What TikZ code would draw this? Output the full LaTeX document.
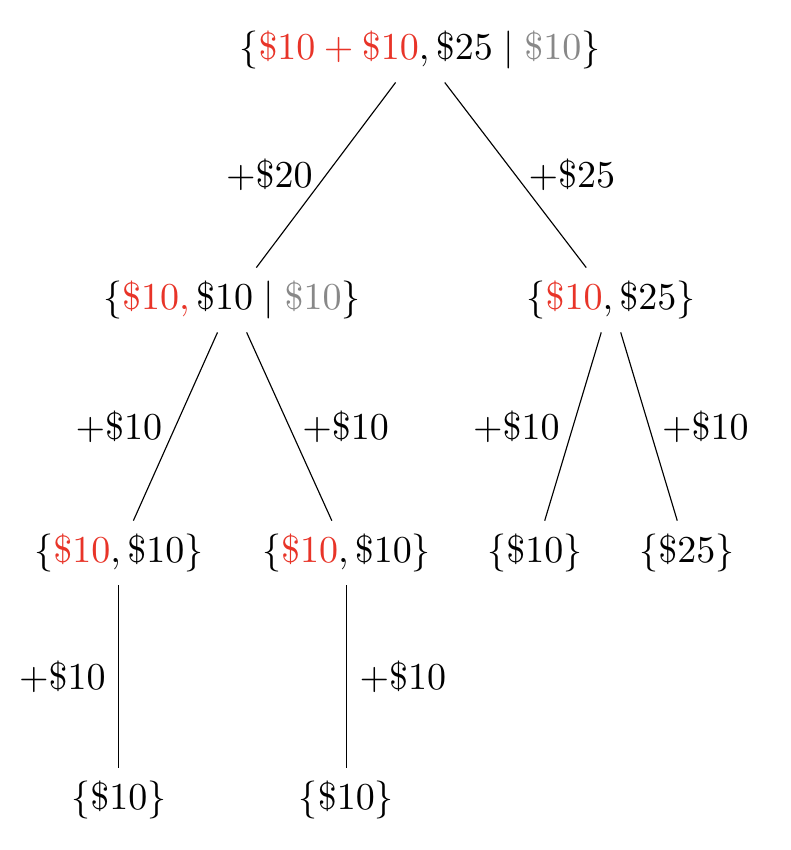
\documentclass[tikz,border=0pt]{standalone}
\usepackage{xcolor}
\usepackage{amsmath, amssymb}
\definecolor{pickred}{RGB}{232,52,40}
\definecolor{leftgray}{RGB}{136,136,136}
\tikzset{state/.style={inner sep=3.33pt},
         edge/.style={draw,line width=0.3pt},
         gain/.style={midway,inner sep=3.33pt}}
\newcommand{\pk}[1]{{\color{pickred}#1}}
\newcommand{\lf}[1]{{\color{leftgray}#1}}
\begin{document}
\begin{tikzpicture}
    \useasboundingbox (0,0) rectangle (7.308,-7.863);
    % states
    \node (root) [state] at (3.885,-0.463) {$\{\pk{\$10 + \$10}, \$25 \mid \lf{\$10}\}$};
    \node (l) [state] at (2.146,-2.775) {$\{\pk{\$10,}\, \$10 \mid \lf{\$10}\}$};
    \node (r) [state] at (5.652,-2.775) {$\{\pk{\$10}, \$25\}$};
    \node (ll) [state] at (1.100,-5.116) {$\{\pk{\$10}, \$10\}$};
    \node (lr) [state] at (3.205,-5.116) {$\{\pk{\$10}, \$10\}$};
    \node (rl) [state] at (4.949,-5.116) {$\{\$10\}$};
    \node (rr) [state] at (6.355,-5.116) {$\{\$25\}$};
    \node (lll) [state] at (1.100,-7.401) {$\{\$10\}$};
    \node (lrl) [state] at (3.205,-7.401) {$\{\$10\}$};
    % moves
    \draw[edge] (root) -- node[gain, left] {$+\$20$} (l);
    \draw[edge] (root) -- node[gain, right] {$+\$25$} (r);
    \foreach \i/\j/\s in {l/ll/left,l/lr/right,r/rl/left,r/rr/right,ll/lll/left,lr/lrl/right} {\draw[edge] (\i) -- node[gain, \s] {$+\$10$} (\j);}
\end{tikzpicture}
\end{document}
